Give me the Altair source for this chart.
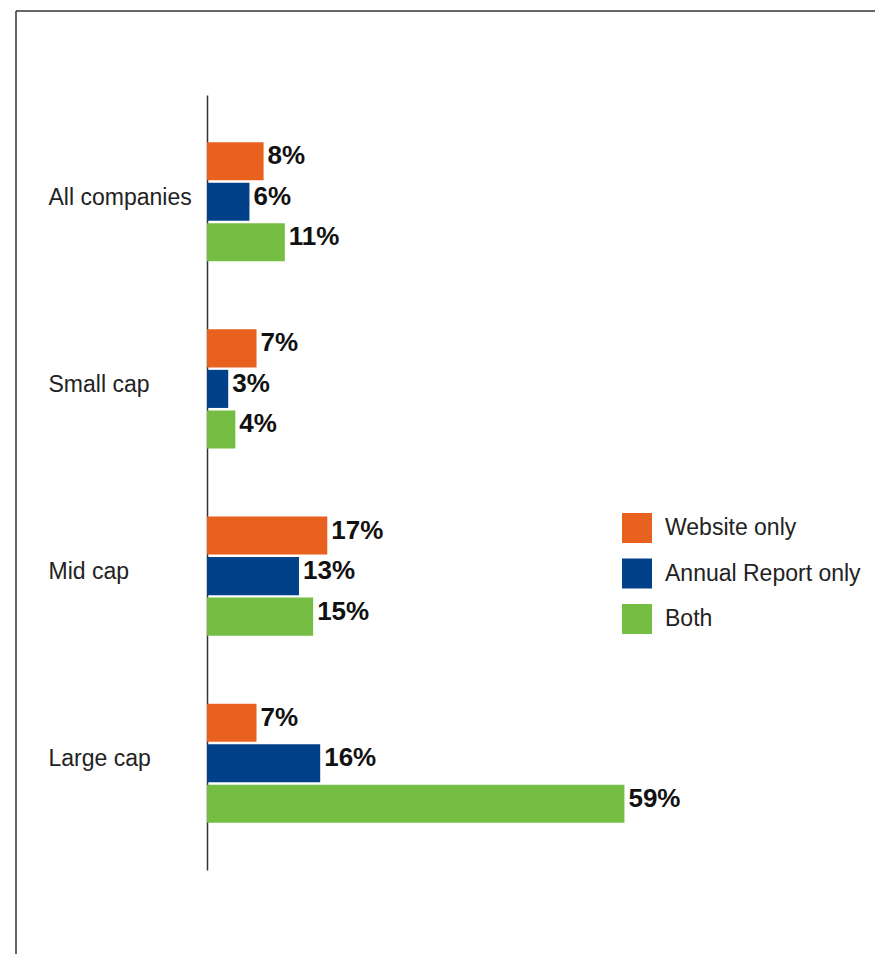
import altair as alt
import pandas as pd

groups = ["All companies", "Small cap", "Mid cap", "Large cap"]
series = ["Website only", "Annual Report only", "Both"]
website = [8, 7, 17, 7]
annual = [6, 3, 13, 16]
both = [11, 4, 15, 59]
colors = ["#E9611F", "#00418A", "#76BE43"]

rows = []
for i, g in enumerate(groups):
    for s, vals in zip(series, [website, annual, both]):
        rows.append({"group": g, "series": s, "value": vals[i]})
df = pd.DataFrame(rows)

W, H = 658, 775
FONT = "Liberation Sans"

y_enc = alt.Y("group:N", sort=groups,
              scale=alt.Scale(domain=groups, paddingInner=0, paddingOuter=0.07),
              axis=alt.Axis(title=None, ticks=False, tickSize=0, labelAlign="left",
                            labelPadding=159, labelFontSize=23, labelColor="#222222",
                            labelFont=FONT, labelOffset=-4, labelLimit=300,
                            domainColor="#333333", domainWidth=1.5, grid=False))
yoff = alt.YOffset("series:N", sort=series,
                   scale=alt.Scale(domain=series, paddingInner=0.06, paddingOuter=0.84))
x_enc = alt.X("value:Q", scale=alt.Scale(domain=[0, 93], nice=False, zero=True),
              axis=None)

bars = alt.Chart(df).mark_bar().encode(
    x=x_enc, y=y_enc, yOffset=yoff,
    color=alt.Color("series:N", sort=series,
                    scale=alt.Scale(domain=series, range=colors),
                    legend=alt.Legend(title=None, orient="none", legendX=415, legendY=418,
                                      symbolType="square", symbolSize=900,
                                      symbolStrokeWidth=0, symbolOpacity=1,
                                      labelFontSize=23, labelColor="#222222",
                                      labelFont=FONT, labelOffset=13, rowPadding=15.5,
                                      labelLimit=400, padding=0))
)

labels = alt.Chart(df).transform_calculate(
    label="datum.value + '%'"
).mark_text(align="left", baseline="middle", dx=4, dy=-5,
            fontSize=26, fontWeight="bold", font=FONT, color="#111111").encode(
    x=x_enc, y=y_enc, yOffset=yoff,
    text=alt.Text("label:N")
)

frame_df = pd.DataFrame({"k": [0]})
frame_top = alt.Chart(frame_df).mark_rule(color="#333333", strokeWidth=1.5).encode(
    x=alt.value(-191), x2=alt.value(W + 30), y=alt.value(-84))
frame_left = alt.Chart(frame_df).mark_rule(color="#333333", strokeWidth=1.5).encode(
    x=alt.value(-191), y=alt.value(-84), y2=alt.value(H + 100))

chart = alt.layer(bars, labels, frame_top, frame_left).properties(
    width=W, height=H,
    autosize=alt.AutoSizeParams(type="none"),
    padding={"left": 199, "top": 87, "right": 10, "bottom": 84},
).configure(background="white").configure_view(strokeWidth=0, stroke="transparent")

chart.save("out.html", embed_options={"renderer": "svg", "actions": False})
